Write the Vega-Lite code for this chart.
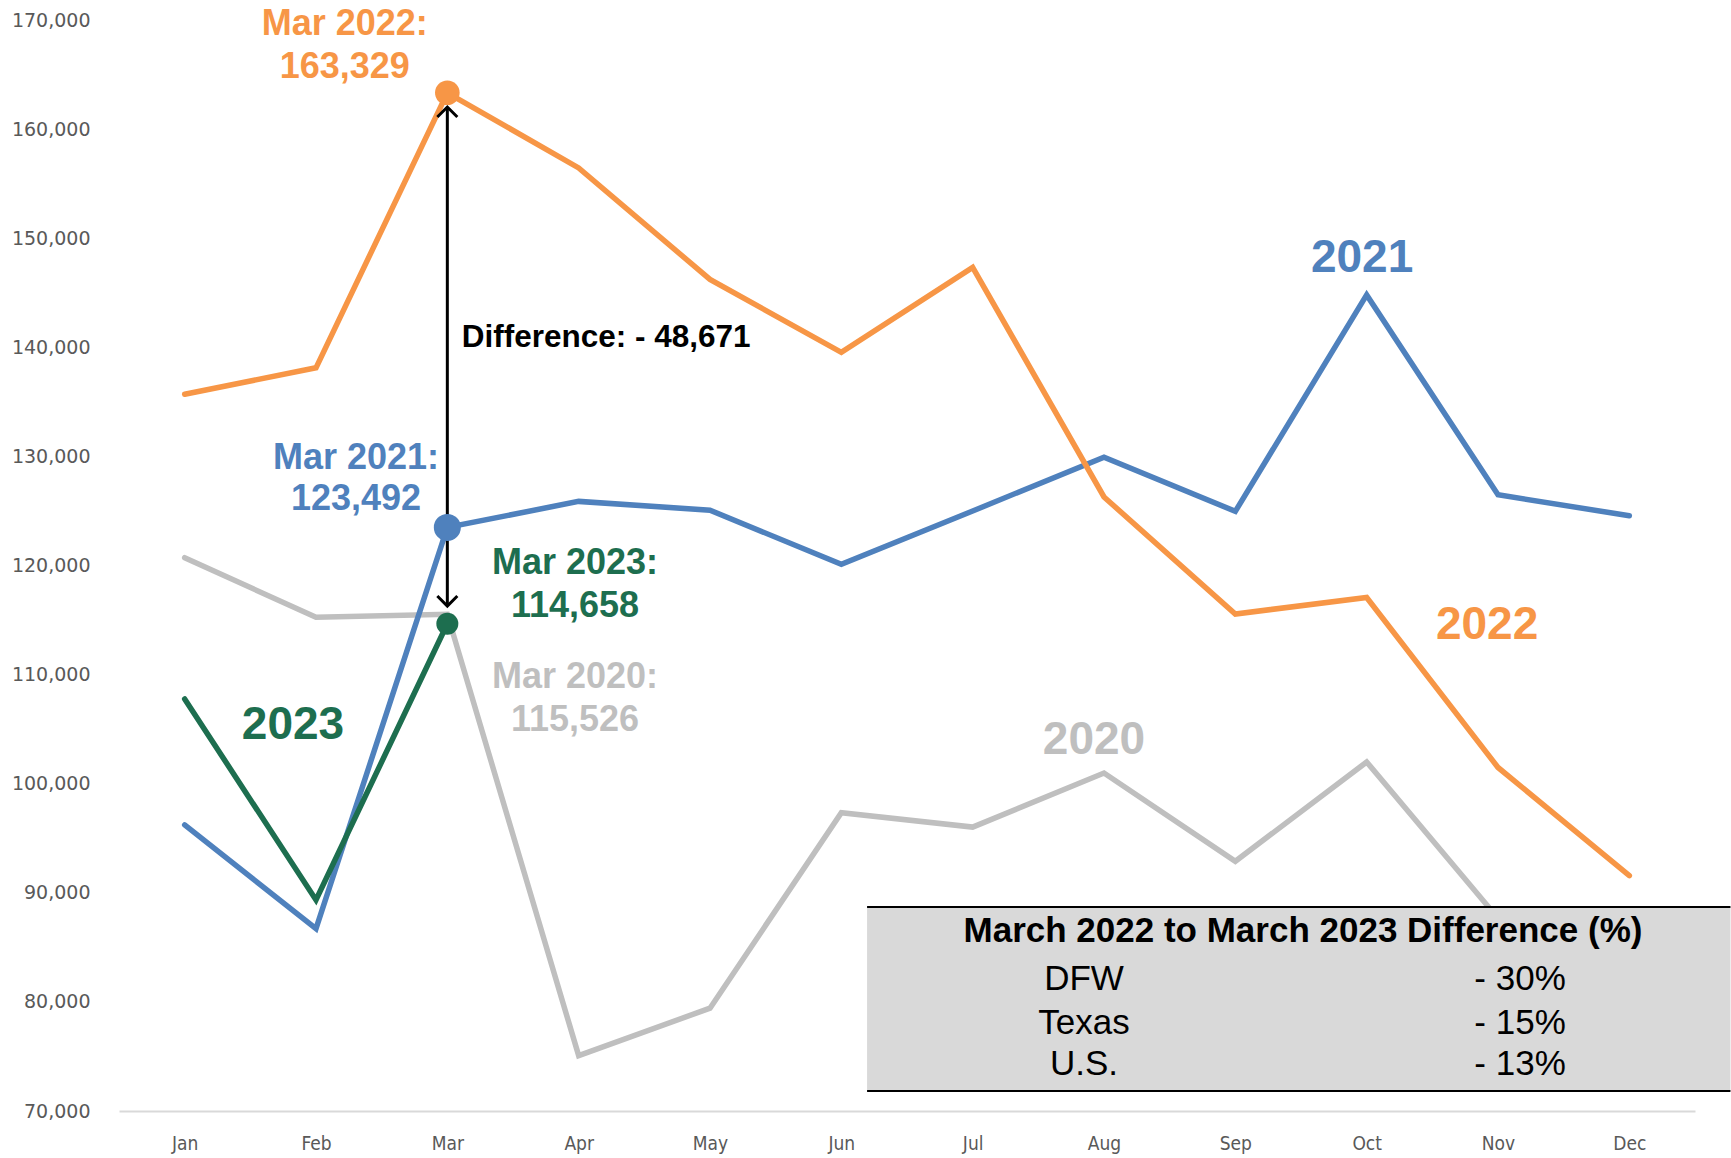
{
  "$schema": "https://vega.github.io/schema/vega-lite/v6.json",
  "width": 1576,
  "height": 1091,
  "autosize": "none",
  "padding": {"left": 119, "top": 20, "right": 36, "bottom": 47},
  "background": "white",
  "config": {"view": {"stroke": null}},
  "datasets": {
    "series": [
      {"month": 1, "year": "2020", "value": 120716},
      {"month": 2, "year": "2020", "value": 115251},
      {"month": 3, "year": "2020", "value": 115526},
      {"month": 4, "year": "2020", "value": 75074},
      {"month": 5, "year": "2020", "value": 79426},
      {"month": 6, "year": "2020", "value": 97338},
      {"month": 7, "year": "2020", "value": 96023},
      {"month": 8, "year": "2020", "value": 100982},
      {"month": 9, "year": "2020", "value": 92886},
      {"month": 10, "year": "2020", "value": 101994},
      {"month": 11, "year": "2020", "value": 87674},
      {"month": 12, "year": "2020", "value": 83000},
      {"month": 1, "year": "2021", "value": 96225},
      {"month": 2, "year": "2021", "value": 86712},
      {"month": 3, "year": "2021", "value": 123492},
      {"month": 4, "year": "2021", "value": 125877},
      {"month": 5, "year": "2021", "value": 125067},
      {"month": 6, "year": "2021", "value": 120108},
      {"month": 7, "year": "2021", "value": 125000},
      {"month": 8, "year": "2021", "value": 129925},
      {"month": 9, "year": "2021", "value": 124966},
      {"month": 10, "year": "2021", "value": 144801},
      {"month": 11, "year": "2021", "value": 126484},
      {"month": 12, "year": "2021", "value": 124561},
      {"month": 1, "year": "2022", "value": 135692},
      {"month": 2, "year": "2022", "value": 138120},
      {"month": 3, "year": "2022", "value": 163329},
      {"month": 4, "year": "2022", "value": 156440},
      {"month": 5, "year": "2022", "value": 146218},
      {"month": 6, "year": "2022", "value": 139540},
      {"month": 7, "year": "2022", "value": 147330},
      {"month": 8, "year": "2022", "value": 126280},
      {"month": 9, "year": "2022", "value": 115554},
      {"month": 10, "year": "2022", "value": 117072},
      {"month": 11, "year": "2022", "value": 101488},
      {"month": 12, "year": "2022", "value": 91570},
      {"month": 1, "year": "2023", "value": 107762},
      {"month": 2, "year": "2023", "value": 89344},
      {"month": 3, "year": "2023", "value": 114658}
    ],
    "pointLabels": [
      {"x": 2.219, "y": 168625, "series": "2022", "text": "Mar 2022:"},
      {"x": 2.219, "y": 164684, "series": "2022", "text": "163,329"},
      {"x": 2.305, "y": 128845, "series": "2021", "text": "Mar 2021:"},
      {"x": 2.305, "y": 125087, "series": "2021", "text": "123,492"},
      {"x": 3.972, "y": 119222, "series": "2023", "text": "Mar 2023:"},
      {"x": 3.972, "y": 115279, "series": "2023", "text": "114,658"},
      {"x": 3.972, "y": 108771, "series": "2020", "text": "Mar 2020:"},
      {"x": 3.972, "y": 104830, "series": "2020", "text": "115,526"}
    ],
    "yearLabels": [
      {"x": 9.965, "y": 146902, "series": "2021", "text": "2021"},
      {"x": 10.917, "y": 113263, "series": "2022", "text": "2022"},
      {"x": 7.924, "y": 102722, "series": "2020", "text": "2020"},
      {"x": 1.825, "y": 104096, "series": "2023", "text": "2023"}
    ],
    "arrow": [
      {"month": 3, "top": 162025, "bottom": 116287, "text": "Difference: - 48,671", "tx": 3.109, "ty": 140055}
    ],
    "box": [
      {"x1": 6.196, "x2": 12.77, "top": 88697, "bottom": 71832}
    ],
    "tableTitle": [
      {"x": 9.515, "y": 86498, "text": "March 2022 to March 2023 Difference (%)"}
    ],
    "tableRows": [
      {"y": 82096, "region": "DFW", "change": "- 30%", "cx": 7.848, "vx": 11.168},
      {"y": 78063, "region": "Texas", "change": "- 15%", "cx": 7.848, "vx": 11.168},
      {"y": 74305, "region": "U.S.", "change": "- 13%", "cx": 7.848, "vx": 11.168}
    ]
  },
  "layer": [
    {
      "data": {"name": "series"},
      "mark": {"type": "line", "strokeWidth": 5.5, "strokeJoin": "miter", "strokeCap": "round"},
      "encoding": {
        "x": {
          "field": "month", "type": "quantitative",
          "scale": {"domain": [0.5, 12.5], "nice": false, "zero": false},
          "axis": {
            "title": null, "values": [1,2,3,4,5,6,7,8,9,10,11,12],
            "labelExpr": "['Jan','Feb','Mar','Apr','May','Jun','Jul','Aug','Sep','Oct','Nov','Dec'][datum.value - 1]",
            "grid": false, "ticks": false, "domainColor": "#d9d9d9", "domainWidth": 2,
            "labelFont": "DejaVu Sans Condensed, Liberation Sans Narrow, Liberation Sans", "labelFontSize": 19,
            "labelColor": "#595959", "labelPadding": 23
          }
        },
        "y": {
          "field": "value", "type": "quantitative",
          "scale": {"domain": [70000, 170000], "nice": false, "zero": false},
          "axis": {
            "title": null, "values": [70000,80000,90000,100000,110000,120000,130000,140000,150000,160000,170000],
            "format": ",d", "grid": false, "ticks": false, "domain": false,
            "labelFont": "DejaVu Sans", "labelFontSize": 19, "labelColor": "#595959", "labelPadding": 29
          }
        },
        "color": {
          "field": "year", "type": "nominal",
          "scale": {"domain": ["2020", "2021", "2022", "2023"], "range": ["#bfbfbf", "#4f81bd", "#f79646", "#1d6e4f"]},
          "legend": null
        },
        "detail": {"field": "year"}
      }
    },
    {
      "data": {"name": "arrow"},
      "mark": {"type": "rule", "strokeWidth": 3, "color": "black"},
      "encoding": {
        "x": {"field": "month", "type": "quantitative"},
        "y": {"field": "top", "type": "quantitative"},
        "y2": {"field": "bottom"}
      }
    },
    {
      "data": {"name": "arrow"},
      "mark": {"type": "point", "shape": "M-1,1L0,0L1,1", "filled": false, "stroke": "black", "strokeWidth": 3, "size": 400, "opacity": 1},
      "encoding": {
        "x": {"field": "month", "type": "quantitative"},
        "y": {"field": "top", "type": "quantitative"}
      }
    },
    {
      "data": {"name": "arrow"},
      "mark": {"type": "point", "shape": "M-1,-1L0,0L1,-1", "filled": false, "stroke": "black", "strokeWidth": 3, "size": 400, "opacity": 1},
      "encoding": {
        "x": {"field": "month", "type": "quantitative"},
        "y": {"field": "bottom", "type": "quantitative"}
      }
    },
    {
      "data": {"name": "series"},
      "transform": [{"filter": "datum.month == 3 && datum.year != '2020'"}],
      "mark": {"type": "circle", "opacity": 1},
      "encoding": {
        "x": {"field": "month", "type": "quantitative"},
        "y": {"field": "value", "type": "quantitative"},
        "color": {"field": "year", "type": "nominal", "legend": null},
        "size": {"field": "year", "type": "nominal", "scale": {"domain": ["2021", "2022", "2023"], "range": [729, 484, 484]}, "legend": null}
      }
    },
    {
      "data": {"name": "arrow"},
      "mark": {"type": "text", "align": "left", "baseline": "alphabetic", "font": "Liberation Sans", "fontWeight": "bold", "fontSize": 31.5, "color": "black"},
      "encoding": {
        "x": {"field": "tx", "type": "quantitative"},
        "y": {"field": "ty", "type": "quantitative"},
        "text": {"field": "text"}
      }
    },
    {
      "data": {"name": "pointLabels"},
      "mark": {"type": "text", "align": "center", "baseline": "alphabetic", "font": "Liberation Sans", "fontWeight": "bold", "fontSize": 36},
      "encoding": {
        "x": {"field": "x", "type": "quantitative"},
        "y": {"field": "y", "type": "quantitative"},
        "text": {"field": "text"},
        "color": {"field": "series", "type": "nominal", "legend": null}
      }
    },
    {
      "data": {"name": "yearLabels"},
      "mark": {"type": "text", "align": "center", "baseline": "alphabetic", "font": "Liberation Sans", "fontWeight": "bold", "fontSize": 46},
      "encoding": {
        "x": {"field": "x", "type": "quantitative"},
        "y": {"field": "y", "type": "quantitative"},
        "text": {"field": "text"},
        "color": {"field": "series", "type": "nominal", "legend": null}
      }
    },
    {
      "data": {"name": "box"},
      "mark": {"type": "rect", "color": "#d9d9d9", "opacity": 1},
      "encoding": {
        "x": {"field": "x1", "type": "quantitative"},
        "x2": {"field": "x2"},
        "y": {"field": "top", "type": "quantitative"},
        "y2": {"field": "bottom"}
      }
    },
    {
      "data": {"name": "box"},
      "mark": {"type": "rule", "color": "black", "strokeWidth": 2},
      "encoding": {
        "x": {"field": "x1", "type": "quantitative"},
        "x2": {"field": "x2"},
        "y": {"field": "top", "type": "quantitative"}
      }
    },
    {
      "data": {"name": "box"},
      "mark": {"type": "rule", "color": "black", "strokeWidth": 2},
      "encoding": {
        "x": {"field": "x1", "type": "quantitative"},
        "x2": {"field": "x2"},
        "y": {"field": "bottom", "type": "quantitative"}
      }
    },
    {
      "data": {"name": "tableTitle"},
      "mark": {"type": "text", "align": "center", "baseline": "middle", "font": "Liberation Sans", "fontWeight": "bold", "fontSize": 35, "color": "black"},
      "encoding": {
        "x": {"field": "x", "type": "quantitative"},
        "y": {"field": "y", "type": "quantitative"},
        "text": {"field": "text"}
      }
    },
    {
      "data": {"name": "tableRows"},
      "mark": {"type": "text", "align": "center", "baseline": "middle", "font": "Liberation Sans", "fontSize": 35, "color": "black"},
      "encoding": {
        "x": {"field": "cx", "type": "quantitative"},
        "y": {"field": "y", "type": "quantitative"},
        "text": {"field": "region"}
      }
    },
    {
      "data": {"name": "tableRows"},
      "mark": {"type": "text", "align": "center", "baseline": "middle", "font": "Liberation Sans", "fontSize": 35, "color": "black"},
      "encoding": {
        "x": {"field": "vx", "type": "quantitative"},
        "y": {"field": "y", "type": "quantitative"},
        "text": {"field": "change"}
      }
    }
  ]
}
